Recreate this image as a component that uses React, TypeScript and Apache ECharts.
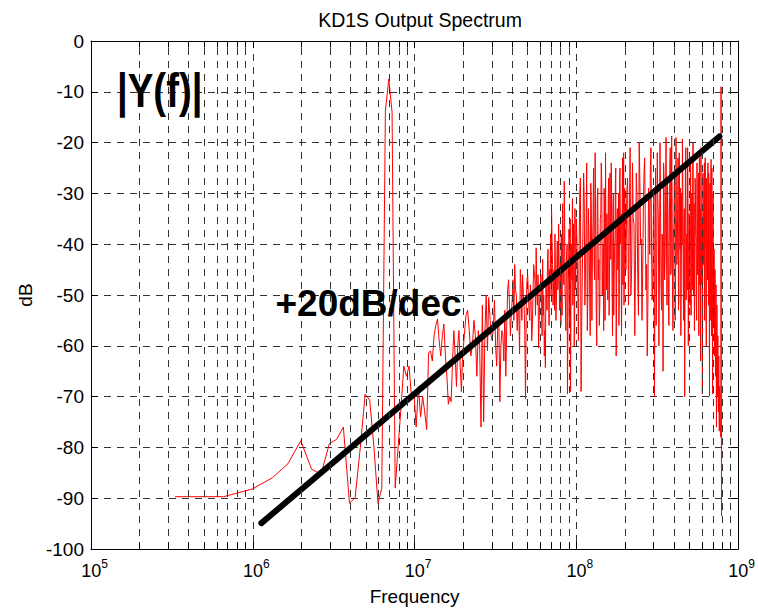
import React, { useEffect, useRef } from "react";
import * as echarts from "echarts";

// ---------- data ----------
// Spectrum |Y(f)| in dB. FFT bins are linearly spaced (0.33 MHz); the dense
// upper part is listed at coarser steps (multiples of the bin spacing).
const lowStartMHz = 0;
const lowStepMHz = 0.33;
const lowDb = [
  -89.7, -89.7, -88.2, -86, -83.2, -78.7, -84.3, -85.3, -79.3, -78.4,
  -76, -91, -89.9, -80, -69.5, -70.7, -80, -91, -88, -13.8,
  -7.5, -14, -88, -79.7, -72, -64, -66, -64, -70, -69,
  -76, -68, -74, -70, -73, -76.5, -61.4, -61, -63, -58,
  -56, -54.7, -59, -62, -58, -55.7, -62, -66, -71.5, -70,
  -71, -63, -57, -62, -68, -60, -57, -64, -69, -62,
];

const midStartMHz = 19.8;
const midStepMHz = 0.99;
const midDb = [
  -54, -57, -60, -58, -57, -76, -75, -50, -50.5, -58,
  -56, -60, -56, -71, -57, -63, -66, -49, -52, -54,
  -47, -44, -50, -52, -61.6, -48, -46, -52, -70.5, -47,
  -50, -55, -51, -56, -44, -47, -40.7, -52, -60.4, -51,
  -46, -58, -54, -62, -64.3, -50, -43, -49, -45, -38,
  -33.5, -44, -48, -53, -46, -52, -39.4, -48, -44, -50,
  -56, -51, -32, -46, -27.6, -50, -57, -42, -69.5, -48,
  -37, -56, -69, -40, -47, -52, -36, -60, -33, -49,
];
// bins half-way between the ones above
const mid2StartMHz = 19.305;
const mid2Db = [
  -58, -53, -62, -55, -66, -60, -52, -57, -61, -54,
  -59, -51, -64, -55, -60, -58, -53, -56, -47, -58,
  -51, -55, -49, -57, -53, -45, -55, -50, -58, -52,
  -46, -53, -48, -59, -50, -44, -54, -49, -46, -55,
  -48, -52, -43, -50, -57, -47, -53, -41, -56, -46,
  -50, -40, -52, -45, -38, -55, -44, -49, -36, -53,
  -43, -38, -54, -41, -48, -35, -52, -45, -40, -58,
  -44, -50, -35, -53, -42, -31, -49, -38, -55, -43,
];

const highAStartMHz = 99;
const highAStepMHz = 1.98;
const highADb = [
  -40, -59, -30, -69, -45, -26, -52, -38, -57, -33,
  -48, -28, -55, -36, -44, -22, -53, -31, -47, -56,
  -35, -24, -50, -40, -29, -55, -43, -34, -51, -27,
  -46, -38, -24, -49, -33, -54, -41, -28, -62, -36,
  -45, -30, -52, -25, -39, -58, -31, -48, -22, -44, -35,
];
const highA2StartMHz = 98.01;
const highA2Db = [
  -35, -48, -42, -27, -55, -37, -31, -46, -24, -50,
  -39, -58, -33, -41, -25, -47, -38, -60, -29, -43,
  -52, -34, -28, -45, -57, -36, -22, -49, -40, -31,
  -54, -26, -43, -37, -58, -30, -47, -39, -25, -51,
  -33, -44, -56, -28, -40, -34, -49, -23, -38, -52, -29,
];

const highBStartMHz = 199.98;
const highBStepMHz = 4.95;
const highBDb = [
  -30, -52, -21, -44, -35, -58, -26, -47, -20, -40,
  -55, -33, -23, -49, -62, -29, -42, -21, -51, -36,
  -70, -25, -45, -31, -60, -20, -48, -38, -65, -27,
  -43, -19, -52, -34, -56, -24, -46, -18.7, -50, -37,
  -28, -55, -19, -44, -33, -53, -22, -41, -58, -30,
  -19.3, -47, -36, -70, -25, -51, -39, -21, -60, -34,
  -45, -23, -54, -30, -49, -20, -42, -57, -27, -38,
  -52, -24, -46, -33, -58, -23, -41, -63, -29, -48,
  -69.5, -26, -44, -35, -55, -23, -40, -60, -31, -47,
  -24, -52, -37, -69.9, -28, -45, -23.3, -58, -34, -69.5,
  -30, -49, -41, -62, -45, -66, -48, -76, -52, -70,
  -58, -73, -62, -76.8, -68, -74, -77,
  -9, -93.5,
];
const highB2StartMHz = 197.505;
const highB2Db = [
  -45, -27, -38, -50, -24, -36, -43, -31, -54, -28,
  -39, -46, -26, -37, -44, -52, -32, -25, -41, -48,
  -29, -40, -56, -22, -35, -46, -30, -53, -39, -24,
  -47, -33, -41, -28, -50, -36, -21, -45, -31, -57,
  -38, -26, -48, -35, -42, -23, -51, -37, -29, -46,
  -40, -27, -55, -33, -44, -21, -38, -49, -30, -43,
  -35, -52, -26, -41, -37, -24, -50, -32, -45, -28,
  -39, -55, -30, -43, -26, -37, -48, -33, -21, -42,
  -36, -51, -29, -40, -24, -46, -34, -53, -27, -39,
  -44, -30, -26, -48, -36, -55, -29, -41, -25, -50,
  -38, -56, -43, -47, -51, -58, -55, -63, -60, -66,
  -64, -70, -67, -72, -75, -71, -76, -78,
];

// +20 dB/dec guide line (end points)
const slopeFreqHz = [1.13e6, 7.66e8];
const slopeDb = [-94.9, -18.8];

const xMin = 1e5;
const xMax = 1e9;
const yMin = -100;
const yMax = 0;
const yStep = 10;
const minorMultipliers = [2, 3, 4, 5, 6, 7, 8, 9];
const decadeStarts = [1e5, 1e6, 1e7, 1e8];

const titleText = "KD1S Output Spectrum";
const xName = "Frequency";
const yName = "dB";
const noteMag = "|Y(f)|";
const noteSlope = "+20dB/dec";

// ---------- helpers ----------
const FONT = "'Liberation Sans', Arial, Helvetica, sans-serif";

function segment(startMHz: number, stepMHz: number, vals: number[]) {
  return vals.map((v, i) => [(startMHz + stepMHz * (i + 1)) * 1e6, v]);
}

export default function App() {
  const ref = useRef<HTMLDivElement>(null);

  useEffect(() => {
    document.body.style.margin = "0";
    if (!ref.current) return;
    const chart = echarts.init(ref.current, undefined, { renderer: "svg" });

    const spectrum = [
      ...segment(lowStartMHz, lowStepMHz, lowDb),
      ...segment(midStartMHz, midStepMHz, midDb),
      ...segment(mid2StartMHz, midStepMHz, mid2Db),
      ...segment(highAStartMHz, highAStepMHz, highADb),
      ...segment(highA2StartMHz, highAStepMHz, highA2Db),
      ...segment(highBStartMHz, highBStepMHz, highBDb),
      ...segment(highB2StartMHz, highBStepMHz, highB2Db),
    ].sort((a, b) => a[0] - b[0]);
    const slope = slopeFreqHz.map((f, i) => [f, slopeDb[i]]);

    const minorValues: number[] = [];
    decadeStarts.forEach((d) => minorMultipliers.forEach((m) => minorValues.push(d * m)));

    const gridDash = { color: "#333333", width: 1, type: [7, 6] as number[] };
    const tickStyle = { color: "#000", width: 1, type: "solid" };

    const markData: any[] = [];
    minorValues.forEach((v) => markData.push({ xAxis: v, lineStyle: gridDash }));
    minorValues.forEach((v) => {
      markData.push([
        { coord: [v, yMin], lineStyle: tickStyle },
        { coord: [v, yMin + 1.3] },
      ]);
      markData.push([
        { coord: [v, yMax], lineStyle: tickStyle },
        { coord: [v, yMax - 1.3] },
      ]);
    });

    const axisLineStyle = { show: true, onZero: false, lineStyle: { color: "#000", width: 1 } };
    const axisTick = { show: true, inside: true, length: 7, lineStyle: { color: "#000" } };

    chart.setOption({
      animation: false,
      backgroundColor: "#ffffff",
      title: {
        text: titleText,
        left: 415,
        top: 5,
        textAlign: "center",
        textStyle: { fontFamily: FONT, fontSize: 19.5, fontWeight: "normal", color: "#000" },
      },
      grid: { left: 91, right: 16, top: 41, bottom: 61, containLabel: false },
      xAxis: [
        {
          type: "log",
          logBase: 10,
          min: xMin,
          max: xMax,
          position: "bottom",
          name: xName,
          nameLocation: "middle",
          nameGap: 38,
          nameTextStyle: { fontFamily: FONT, fontSize: 19, color: "#000" },
          axisLine: axisLineStyle,
          axisTick,
          axisLabel: {
            margin: 9,
            color: "#000",
            formatter: (v: number) => `{b|10}{e|${Math.round(Math.log10(v))}}`,
            rich: {
              b: { fontFamily: FONT, fontSize: 18, color: "#000", padding: [0, 0, 0, 7], lineHeight: 22, verticalAlign: "bottom" },
              e: { fontFamily: FONT, fontSize: 12, color: "#000", lineHeight: 22, verticalAlign: "top" },
            },
          },
          splitLine: { show: true, lineStyle: gridDash },
          minorTick: { show: false },
        },
        {
          type: "log",
          logBase: 10,
          min: xMin,
          max: xMax,
          position: "top",
          axisLine: axisLineStyle,
          axisTick,
          axisLabel: { show: false },
          splitLine: { show: false },
        },
      ],
      yAxis: [
        {
          type: "value",
          min: yMin,
          max: yMax,
          interval: yStep,
          position: "left",
          name: yName,
          nameLocation: "middle",
          nameGap: 53,
          nameTextStyle: { fontFamily: FONT, fontSize: 19, color: "#000" },
          axisLine: axisLineStyle,
          axisTick,
          axisLabel: { margin: 7, fontFamily: FONT, fontSize: 19, color: "#000" },
          splitLine: { show: true, lineStyle: gridDash },
        },
        {
          type: "value",
          min: yMin,
          max: yMax,
          interval: yStep,
          position: "right",
          axisLine: axisLineStyle,
          axisTick,
          axisLabel: { show: false },
          splitLine: { show: false },
        },
      ],
      series: [
        {
          name: "grid",
          type: "line",
          data: [],
          z: 1,
          silent: true,
          symbol: "none",
          markLine: {
            silent: true,
            symbol: ["none", "none"],
            label: { show: false },
            emphasis: { disabled: true },
            data: markData,
          },
        },
        {
          name: "|Y(f)|",
          type: "line",
          data: spectrum,
          z: 3,
          symbol: "none",
          showSymbol: false,
          lineStyle: { color: "#ff0000", width: 1 },
          itemStyle: { color: "#ff0000" },
        },
        {
          name: "slope",
          type: "line",
          data: slope,
          z: 4,
          symbol: "none",
          showSymbol: false,
          lineStyle: { color: "#000", width: 6, cap: "round" },
          itemStyle: { color: "#000" },
        },
      ],
      graphic: [
        {
          type: "text",
          x: 117,
          y: 90,
          scaleX: 0.8,
          z: 10,
          style: {
            text: noteMag,
            fontFamily: FONT,
            fontSize: 48,
            fontWeight: "bold",
            fill: "#000",
            verticalAlign: "middle",
            align: "left",
          },
        },
        {
          type: "text",
          x: 275.5,
          y: 303.5,
          z: 10,
          style: {
            text: noteSlope,
            fontFamily: FONT,
            fontSize: 37,
            fontWeight: "bold",
            fill: "#000",
            verticalAlign: "middle",
            align: "left",
          },
        },
      ],
    });

    return () => chart.dispose();
  }, []);

  return <div ref={ref} style={{ width: 758, height: 611 }} />;
}
